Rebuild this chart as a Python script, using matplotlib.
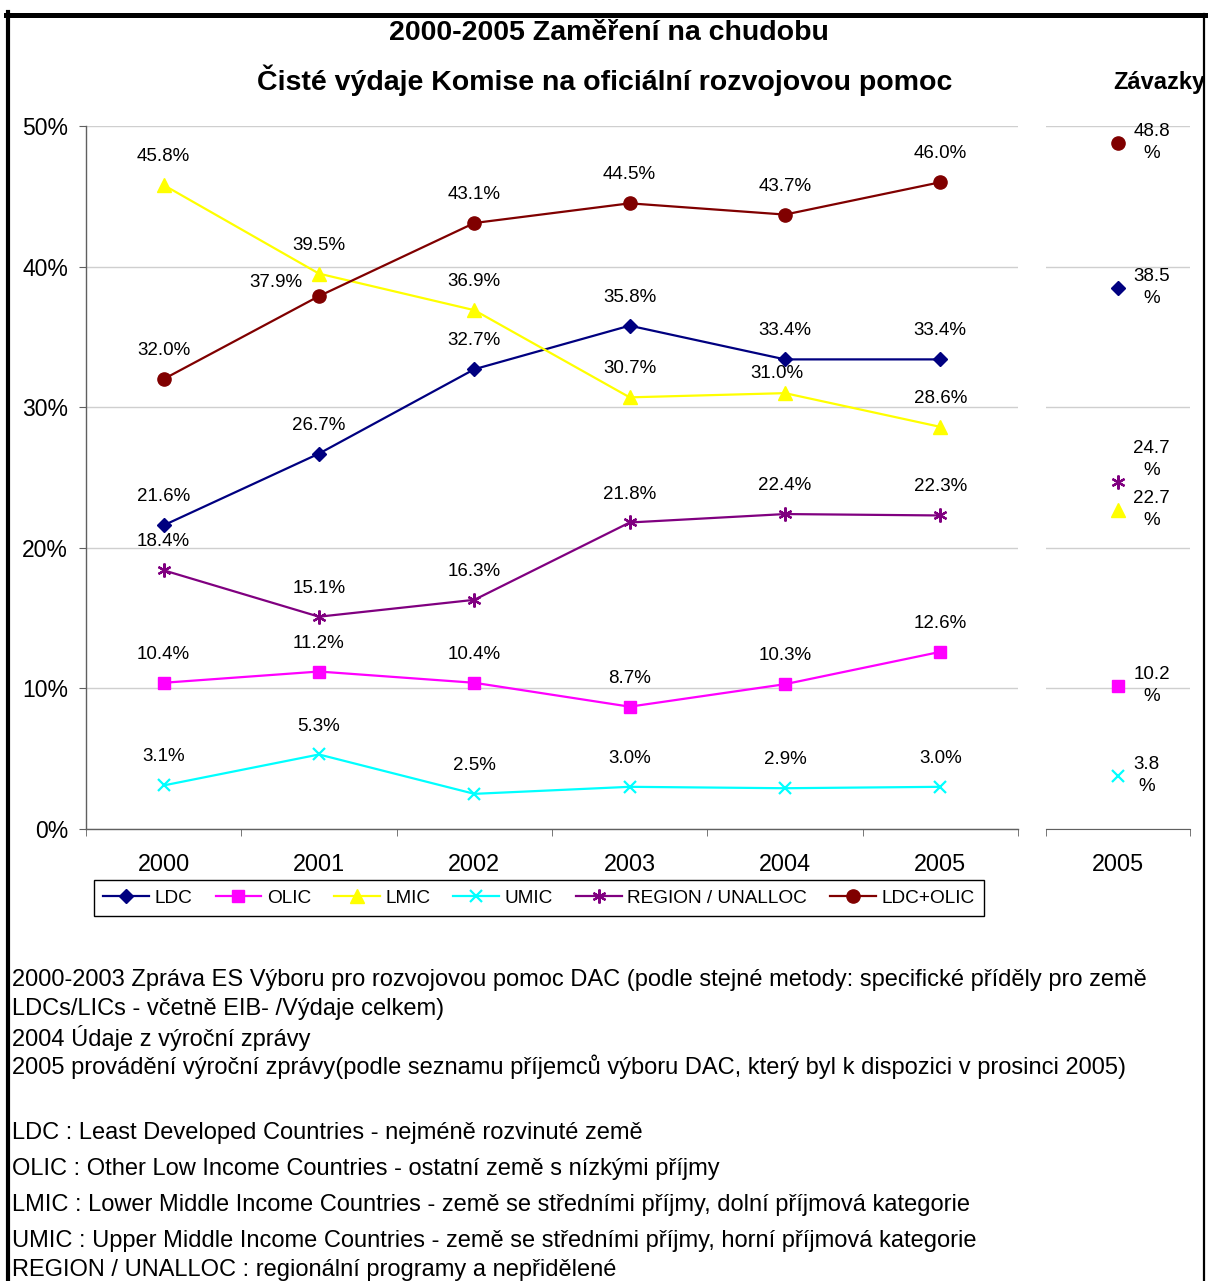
import matplotlib
matplotlib.use('Agg')
import matplotlib.pyplot as plt
from matplotlib.lines import Line2D
import numpy as np

plt.rcParams['font.family'] = ['Liberation Sans', 'DejaVu Sans']

# ---------------- data ----------------
years = ['2000', '2001', '2002', '2003', '2004', '2005']
commit_label = ['2005']
series_names = ['LDC', 'OLIC', 'LMIC', 'UMIC', 'REGION / UNALLOC', 'LDC+OLIC']
ldc = [21.6, 26.7, 32.7, 35.8, 33.4, 33.4]
olic = [10.4, 11.2, 10.4, 8.7, 10.3, 12.6]
lmic = [45.8, 39.5, 36.9, 30.7, 31.0, 28.6]
umic = [3.1, 5.3, 2.5, 3.0, 2.9, 3.0]
region = [18.4, 15.1, 16.3, 21.8, 22.4, 22.3]
ldc_olic = [32.0, 37.9, 43.1, 44.5, 43.7, 46.0]
commitments_2005 = [38.5, 10.2, 22.7, 3.8, 24.7, 48.8]
y_ticks = [0, 10, 20, 30, 40, 50]

title1 = '2000-2005 Zaměření na chudobu'
title2 = 'Čisté výdaje Komise na oficiální rozvojovou pomoc'
title3 = 'Závazky'
notes_block1 = [
    '2000-2003 Zpráva ES Výboru pro rozvojovou pomoc DAC (podle stejné metody: specifické příděly pro země',
    'LDCs/LICs - včetně EIB- /Výdaje celkem)',
    '2004 Údaje z výroční zprávy',
    '2005 provádění výroční zprávy(podle seznamu příjemců výboru DAC, který byl k dispozici v prosinci 2005)',
]
notes_block2 = [
    'LDC : Least Developed Countries - nejméně rozvinuté země',
    'OLIC : Other Low Income Countries - ostatní země s nízkými příjmy',
    'LMIC : Lower Middle Income Countries - země se středními příjmy, dolní příjmová kategorie',
    'UMIC : Upper Middle Income Countries - země se středními příjmy, horní příjmová kategorie',
    'REGION / UNALLOC : regionální programy a nepřidělené',
]

series_values = [ldc, olic, lmic, umic, region, ldc_olic]

# ---------------- styles ----------------
styles = [
    dict(color='#000080', marker='D', ms=7.5, mew=1),
    dict(color='#FF00FF', marker='s', ms=8.5, mew=1),
    dict(color='#FFFF00', marker='^', ms=10, mew=1),
    dict(color='#00FFFF', marker='x', ms=9, mew=1.6),
    dict(color='#800080', marker=(6, 2, 0), ms=10, mew=1.6),
    dict(color='#800000', marker='o', ms=9.5, mew=1),
]

W, H = 1208, 1281
fig = plt.figure(figsize=(W / 100, H / 100), dpi=100)

ax = fig.add_axes([86 / W, 1 - 829 / H, 932 / W, 703 / H])
ax2 = fig.add_axes([1046 / W, 1 - 829 / H, 144 / W, 703 / H])

spine_col = '#606060'
grid_col = '#cfcfcf'

x = np.arange(len(years))
handles = []
for name, vals, st in zip(series_names, series_values, styles):
    h, = ax.plot(x, vals, color=st['color'], lw=1.6, marker=st['marker'],
                 ms=st['ms'], mew=st['mew'], mfc=st['color'], mec=st['color'],
                 label=name, zorder=3)
    handles.append(h)

# label offsets (points); default: above
default_off = (0, 20.5)
special_off = {(5, 1): (-31, 9.5), (2, 4): (-6, 14)}
for si, vals in enumerate(series_values):
    for i, v in enumerate(vals):
        off = special_off.get((si, i), default_off)
        ax.annotate(f'{v:.1f}%', (i, v), xytext=off, textcoords='offset points',
                    ha='center', va='center', fontsize=13.5, zorder=4)

ax.set_xlim(-0.5, len(years) - 0.5)
ax.set_ylim(0, 50)
ax.set_xticks(x)
ax.set_xticklabels(years, fontsize=16.8)
ax.set_xticks(np.arange(-0.5, len(years), 1), minor=True)
ax.tick_params(axis='x', which='major', length=0, pad=17)
ax.tick_params(axis='x', which='minor', length=5, direction='out', color=spine_col)
ax.set_yticks(y_ticks)
ax.set_yticklabels([f'{v}%' for v in y_ticks], fontsize=16.5)
ax.tick_params(axis='y', length=5, direction='out', color=spine_col, pad=8)
ax.yaxis.grid(True, color=grid_col, lw=1)
ax.set_axisbelow(True)
for s in ['top', 'right']:
    ax.spines[s].set_visible(False)
for s in ['left', 'bottom']:
    ax.spines[s].set_color(spine_col)
    ax.spines[s].set_linewidth(1)

# commitments panel
for si, (v, st) in enumerate(zip(commitments_2005, styles)):
    ax2.plot([0], [v], linestyle='none', marker=st['marker'], ms=st['ms'],
             mew=st['mew'], mfc=st['color'], mec=st['color'], zorder=3)
    off = (11, 16) if si == 4 else (11, 0)
    ax2.annotate(f'{v:.1f}\n%', (0, v), xytext=off, textcoords='offset points',
                 ha='left', va='center', multialignment='center', fontsize=13.5,
                 linespacing=1.4, zorder=4)
ax2.set_xlim(-0.5, 0.5)
ax2.set_ylim(0, 50)
ax2.set_xticks([0])
ax2.set_xticklabels(commit_label, fontsize=16.8)
ax2.set_xticks([-0.5, 0.5], minor=True)
ax2.tick_params(axis='x', which='major', length=0, pad=17)
ax2.tick_params(axis='x', which='minor', length=5, direction='out', color=spine_col)
ax2.set_yticks(y_ticks)
ax2.tick_params(axis='y', length=0, labelleft=False)
ax2.yaxis.grid(True, color=grid_col, lw=1)
ax2.set_axisbelow(True)
for s in ['top', 'right', 'left']:
    ax2.spines[s].set_visible(False)
ax2.spines['bottom'].set_color(spine_col)

# titles
fig.text(609 / W, 1 - 33 / H, title1, ha='center', va='center', fontsize=20.5, fontweight='bold')
fig.text(605 / W, 1 - 80 / H, title2, ha='center', va='center', fontsize=20.5, fontweight='bold')
fig.text(1113 / W, 1 - 83 / H, title3, ha='left', va='center', fontsize=17, fontweight='bold')

# legend
leg = fig.legend(handles, series_names, loc='center', bbox_to_anchor=(539 / W, 1 - 898 / H),
                 ncol=6, frameon=True, fancybox=False, edgecolor='black', fontsize=13.7,
                 handlelength=2.4, handletextpad=0.3, columnspacing=1.2, borderpad=0.5,
                 framealpha=1)
leg.get_frame().set_linewidth(1)

# notes
y1 = [980, 1009, 1038, 1067]
for yy, t in zip(y1, notes_block1):
    fig.text(12 / W, 1 - yy / H, t, ha='left', va='center', fontsize=17)
y2 = [1133, 1169, 1205, 1241, 1270]
for yy, t in zip(y2, notes_block2):
    fig.text(12 / W, 1 - yy / H, t, ha='left', va='center', fontsize=17)

# frame
fig.add_artist(Line2D([8 / W, 8 / W], [0, 1 - 12 / H], transform=fig.transFigure, color='black', lw=3))
fig.add_artist(Line2D([6 / W, 1], [1 - 14.5 / H, 1 - 14.5 / H], transform=fig.transFigure, color='black', lw=3.6))
fig.add_artist(Line2D([1203.5 / W, 1203.5 / W], [0, 1 - 14 / H], transform=fig.transFigure, color='black', lw=1.6))

fig.savefig('out.png', dpi=100)
